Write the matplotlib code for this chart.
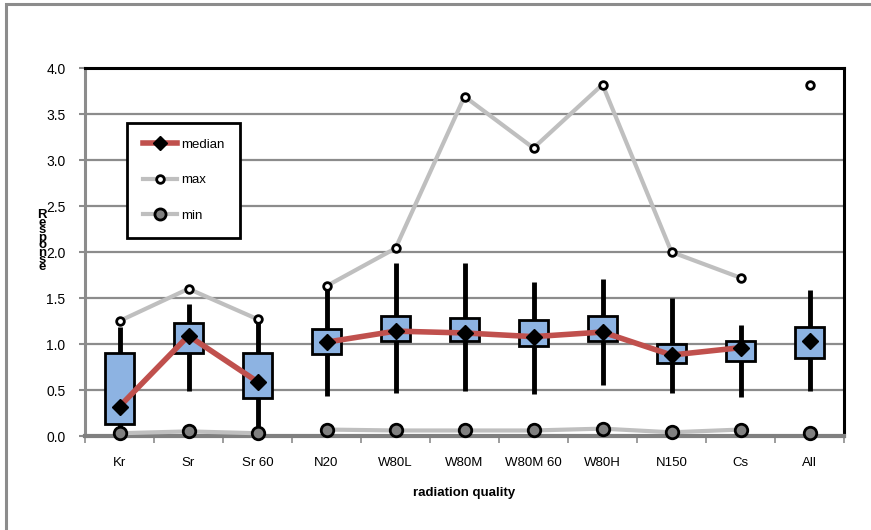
import matplotlib
matplotlib.use("Agg")
import matplotlib.pyplot as plt
from matplotlib.lines import Line2D
from matplotlib.patches import Rectangle
import numpy as np

plt.rcParams['font.family'] = ['Liberation Sans', 'DejaVu Sans']

categories = ["Kr", "Sr", "Sr 60", "N20", "W80L", "W80M", "W80M 60", "W80H", "N150", "Cs", "All"]
q1 =         [0.13, 0.90, 0.41, 0.89, 1.03, 1.03, 0.98, 1.03, 0.79, 0.81, 0.85]
q3 =         [0.90, 1.23, 0.90, 1.16, 1.30, 1.28, 1.26, 1.30, 1.00, 1.03, 1.19]
median =     [0.32, 1.09, 0.59, 1.02, 1.14, 1.12, 1.08, 1.13, 0.88, 0.96, 1.03]
whisker_lo = [0.05, 0.49, 0.03, 0.43, 0.47, 0.49, 0.46, 0.55, 0.47, 0.42, 0.49]
whisker_hi = [1.18, 1.43, 1.25, 1.62, 1.88, 1.88, 1.67, 1.71, 1.50, 1.21, 1.59]
maximum =    [1.25, 1.60, 1.27, 1.63, 2.04, 3.69, 3.13, 3.82, 2.00, 1.72, 3.81]
minimum =    [0.03, 0.05, 0.03, 0.07, 0.06, 0.06, 0.06, 0.08, 0.04, 0.07, 0.03]

# series are joined within each group of related qualities; "All" stands alone
groups = [(0, 3), (3, 10), (10, 11)]

W, H = 871, 530
fig = plt.figure(figsize=(W / 100, H / 100), dpi=100)

# outer chart frame
fig.add_artist(Rectangle((6 / W, -0.02), 1.1, (H - 4) / H + 0.02, transform=fig.transFigure,
                         fill=False, edgecolor="#8c8c8c", linewidth=2.2))

left, right, top, bottom = 85, 844, 68, 436
ax = fig.add_axes([left / W, 1 - bottom / H, (right - left) / W, (bottom - top) / H])

x = np.arange(len(categories))
ax.set_xlim(-0.5, len(categories) - 0.5)
ax.set_ylim(0, 4.0)

# gridlines
ax.set_yticks(np.arange(0, 4.01, 0.5))
ax.set_yticklabels([f"{v:.1f}" for v in np.arange(0, 4.01, 0.5)], fontsize=10)
ax.yaxis.grid(True, color="#8c8c8c", linewidth=1.6, zorder=0)
ax.set_axisbelow(True)

# x ticks sit between categories, labels at the centres
ax.set_xticks(np.arange(-0.5, len(categories), 1.0))
ax.set_xticklabels([])
ax.set_xticks(x, minor=True)
ax.set_xticklabels(categories, minor=True, fontsize=9.5)
ax.tick_params(axis="x", which="major", direction="out", length=5, width=1.2, color="#8c8c8c")
ax.tick_params(axis="x", which="minor", length=0, pad=15)
ax.tick_params(axis="y", direction="out", length=4, width=1.5, color="#8c8c8c", pad=10)

for side in ("top", "right"):
    ax.spines[side].set_color("black")
    ax.spines[side].set_linewidth(2.2)
ax.spines["left"].set_color("#8c8c8c")
ax.spines["left"].set_linewidth(2.2)
ax.spines["bottom"].set_color("#808080")
ax.spines["bottom"].set_linewidth(3)

# whiskers and boxes
box_w = 0.42
for i in range(len(categories)):
    ax.plot([x[i], x[i]], [whisker_lo[i], whisker_hi[i]], color="black", linewidth=3.5,
            solid_capstyle="butt", zorder=3)
    ax.add_patch(Rectangle((x[i] - box_w / 2, q1[i]), box_w, q3[i] - q1[i],
                           facecolor="#8DB3E2", edgecolor="black", linewidth=2, zorder=4))

grey = "#BFBFBF"
red = "#C0504D"
for a, b in groups:
    xs = x[a:b]
    ax.plot(xs, maximum[a:b], color=grey, linewidth=3, zorder=5)
    ax.plot(xs, minimum[a:b], color=grey, linewidth=3, zorder=5)
    if b - a > 1:
        ax.plot(xs, median[a:b], color=red, linewidth=4, zorder=6)

ax.plot(x, maximum, linestyle="none", marker="o", markersize=5.5, markerfacecolor="white",
        markeredgecolor="black", markeredgewidth=2, zorder=7, clip_on=False)
ax.plot(x, minimum, linestyle="none", marker="o", markersize=9, markerfacecolor="#808080",
        markeredgecolor="black", markeredgewidth=2, zorder=7, clip_on=False)
ax.plot(x, median, linestyle="none", marker="D", markersize=8, markerfacecolor="black",
        markeredgecolor="black", zorder=8)

handles = [
    Line2D([], [], color=red, linewidth=4, marker="D", markersize=7, markerfacecolor="black",
           markeredgecolor="black"),
    Line2D([], [], color=grey, linewidth=3, marker="o", markersize=5.5, markerfacecolor="white",
           markeredgecolor="black", markeredgewidth=2),
    Line2D([], [], color=grey, linewidth=3, marker="o", markersize=8, markerfacecolor="#808080",
           markeredgecolor="black", markeredgewidth=2),
]
leg = ax.legend(handles, ["median", "max", "min"], loc="upper left",
                bbox_to_anchor=(127 / W, 1 - 123 / H), bbox_transform=fig.transFigure,
                fontsize=9.5, frameon=True, fancybox=False, handlelength=2.6, handletextpad=0.3,
                labelspacing=1.75, borderpad=1.2, borderaxespad=0, framealpha=1)
leg.get_frame().set_edgecolor("black")
leg.get_frame().set_linewidth(2)
leg.set_zorder(10)

fig.text(0.5 * (left + right) / W, 1 - 493 / H, "radiation quality", ha="center", va="center",
         fontsize=9.5, fontweight="bold")
fig.text(42 / W, 1 - 209 / H, "\n".join("Response"), ha="center", va="top",
         fontsize=9.5, fontweight="bold", linespacing=0.5)

fig.savefig("out.png", dpi=100)
